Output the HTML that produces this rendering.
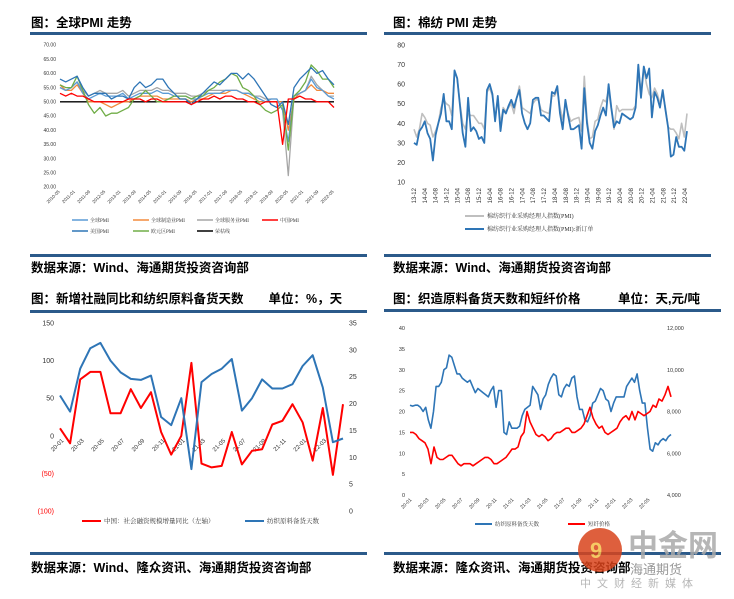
<!DOCTYPE html>
<html><head><meta charset="utf-8">
<style>
html,body{margin:0;padding:0;background:#fff;}
svg{display:block;font-family:"Liberation Sans","Noto Sans CJK SC",sans-serif;}
.tt{font-family:"Liberation Sans","Noto Sans CJK SC",sans-serif;font-weight:bold;font-size:12.5px;fill:#000;}
.sm{font-size:5px;fill:#333;}
.lg{font-family:"Liberation Serif","Noto Serif CJK SC",serif;fill:#333;}
</style></head><body>
<svg id="c" width="734" height="599" viewBox="0 0 734 599">
<!-- panel 1 static -->
<text class="tt" x="31" y="27">图：全球PMI 走势</text>
<rect x="30" y="32" width="337" height="3" fill="#2b5a8a"/>
<rect x="30" y="254" width="337" height="3" fill="#2b5a8a"/>
<text class="tt" x="31" y="272">数据来源：Wind、海通期货投资咨询部</text>
<!-- panel 2 static -->
<text class="tt" x="393" y="27">图：棉纺 PMI 走势</text>
<rect x="384" y="32" width="327" height="3" fill="#2b5a8a"/>
<rect x="384" y="254" width="327" height="3" fill="#2b5a8a"/>
<text class="tt" x="393" y="272">数据来源：Wind、海通期货投资咨询部</text>
<!-- panel 3 static -->
<text class="tt" x="31" y="303">图：新增社融同比和纺织原料备货天数　　单位：%，天</text>
<rect x="30" y="310" width="337" height="3" fill="#2b5a8a"/>
<rect x="30" y="552" width="337" height="3" fill="#2b5a8a"/>
<text class="tt" x="31" y="572">数据来源：Wind、隆众资讯、海通期货投资咨询部</text>
<!-- panel 4 static -->
<text class="tt" x="393" y="303">图：织造原料备货天数和短纤价格　　　单位：天,元/吨</text>
<rect x="384" y="309" width="337" height="3" fill="#2b5a8a"/>
<rect x="384" y="552" width="337" height="3" fill="#2b5a8a"/>
<text class="tt" x="393" y="572">数据来源：隆众资讯、海通期货投资咨询部</text>
<g id="g"></g>
<!-- watermark -->
<g opacity="0.85">
<circle cx="600" cy="550" r="22" fill="#d9441c"/>
<text x="590" y="558" font-size="22" fill="#f5c04a" font-weight="bold">9</text>
<text x="628" y="556" font-size="30" fill="#aaa" font-weight="bold" font-family="Noto Sans CJK SC,sans-serif">中金网</text>
<text x="630" y="574" font-size="13" fill="#888" font-family="Noto Sans CJK SC,sans-serif">海通期货</text>
<text x="580" y="587" font-size="11" fill="#aaa" letter-spacing="6" font-family="Noto Sans CJK SC,sans-serif">中文财经新媒体</text>
</g>
</svg>
<script>
// ---------- Panel 1 data (quarterly from 2010-05 to 2022-05) ----------
const p1Ticks = [70,65,60,55,50,45,40,35,30,25,20];
const p1XLabels = ["2010-05","2011-01","2011-09","2012-05","2013-01","2013-09","2014-05","2015-01","2015-09","2016-05","2017-01","2017-09","2018-05","2019-01","2019-09","2020-05","2021-01","2021-09","2022-05"];
const pmiGlobal = [55,54,55, 57,53,51,52, 53,52,52,52, 53,51,52,53, 53,53,54,53, 53,52,52,52, 51,51,52,53, 53,53,54,54, 54,53,53,52, 51,50,51,51, 47,36,52,53, 54,58,55,54, 52,51];
const pmiMfg = [56,54,54, 56,53,50,50, 50,49,48,49, 50,50,51,52, 52,52,52,51, 51,51,51,51, 50,51,51,52, 53,53,53,54, 54,53,52,51, 50,50,50,50, 50,40,51,53, 54,56,54,54, 53,53];
const pmiSvc = [55,54,55, 57,54,52,53, 54,53,53,53, 54,52,53,54, 54,54,55,54, 54,53,53,53, 52,52,53,54, 54,54,54,54, 54,53,53,52, 52,51,51,51, 47,24,52,53, 54,59,56,54, 52,52];
const pmiChina = [53,52,53, 52,52,51,50, 50,50,50,50, 50,51,51,51, 50,51,51,50, 50,50,50,50, 49,50,51,51, 52,51,52,52, 51,51,50,50, 49,50,50,50, 35,51,51,52, 51,51,50,50, 50,48];
const pmiUS = [58,57,58, 59,55,52,53, 53,53,51,52, 52,51,55,57, 55,56,58,58, 55,53,51,51, 49,51,53,55, 57,56,58,60, 60,58,60,58, 55,52,49,48, 50,42,55,58, 60,62,60,61, 58,56];
const pmiEU = [56,55,55, 59,54,49,46, 48,45,46,46, 47,48,51,52, 54,52,50,50, 51,52,52,52, 51,52,52,54, 55,57,58,60, 59,55,54,52, 49,47,46,47, 49,33,52,54, 57,63,61,58, 58,55];
const p1Threshold = [50];
// ---------- Panel 2 data (month index from 2013-12) ----------
const p2Ticks = [80,70,60,50,40,30,20,10];
const p2XLabels = ["13-12","14-04","14-08","14-12","15-04","15-08","15-12","16-04","16-08","16-12","17-04","17-08","17-12","18-04","18-08","18-12","19-04","19-08","19-12","20-04","20-08","20-12","21-04","21-08","21-12","22-04"];
const p2Months = [0,1,2,3,4,5,6,7,8,9,10,11,12,13,14,15,16,17,18,19,20,21,22,23,24,25,26,27,28,29,30,31,32,33,34,35,36,37,38,39,40,41,42,43,44,45,46,47,48,50,51,52,53,54,55,56,57,58,59,61,62,63,64,65,66,67,68,69,70,71,72,73,74,75,76,77,78,80,81,82,83,84,85,86,87,88,89,90,91,92,93,94,95,96,97,98,99,100,101];
const cottonNewOrders = [30,29,36,38,41,35,32,21,34,40,45,55,41,41,37,67,63,49,35,28,53,36,38,36,32,33,30,57,60,55,41,54,36,47,45,49,52,48,53,57,45,40,37,40,52,53,53,44,44,41,56,55,59,45,37,52,44,37,37,39,27,58,40,30,27,36,39,44,48,44,60,48,38,41,40,45,44,42,43,48,70,53,69,63,68,43,56,53,48,57,47,38,23,24,33,28,28,26,36];
const cottonPMI = [37,33,37,45,43,40,39,33,36,40,48,52,50,49,44,66,63,50,40,37,45,44,44,42,40,40,37,56,58,54,43,52,40,48,46,48,50,45,53,59,48,47,46,45,50,52,52,47,46,45,54,54,57,48,42,50,45,41,42,43,36,64,42,32,33,41,42,48,52,51,57,47,37,49,46,47,47,47,47,49,65,57,68,60,55,53,58,55,50,55,48,38,37,37,35,32,40,33,45];
// ---------- Panel 3 data (monthly 20-01..22-05) ----------
const p3LeftTicks = [150,100,50,0,-50,-100];
const p3RightTicks = [35,30,25,20,15,10,5,0];
const p3XLabels = ["20-01","20-03","20-05","20-07","20-09","20-11","21-01","21-03","21-05","21-07","21-09","21-11","22-01","22-03"];
const socialFinancing = [10,-10,75,85,85,30,30,62,37,58,5,-25,0,97,-37,-42,-40,5,-38,-20,-18,15,20,42,18,-33,37,-52,42];
const textileStockDays = [21.5,18.5,26.5,30.3,31.3,28,25.8,24.6,24.4,25.2,17.5,16,21,7.8,24,25.5,26.5,28.3,18.7,21,24.5,22.8,22.8,23.6,27,29,23,12.8,13.5];
// ---------- Panel 4 data (weekly-ish 20-01..22-06) ----------
const p4LeftTicks = [40,35,30,25,20,15,10,5,0];
const p4RightTicks = [12000,10000,8000,6000,4000];
const p4XLabels = ["20-01","20-03","20-05","20-07","20-09","20-11","21-01","21-03","21-05","21-07","21-09","21-11","22-01","22-03","22-05"];
const weavingStockDays = [21.5,21.3,21.5,21.5,21,20,21,18,16,20,26,26,27,30,30.5,33.5,33,31,29,29,28,27.5,27,27.5,26,24.5,25.5,25,24.5,24,23.5,25,26,21,25,25,15,14.5,17.5,16,16,16,16.5,19,20.5,21,21.5,26,25,24,20.5,23,24,26.5,28,29,28.5,24,23.5,25.5,26.5,26,28,28.5,23.5,20.5,20.5,18,17.5,19,22,22.5,24,25.5,25,23,22.5,20,22,23.5,23.5,23.5,23.5,26,27,28,27,29,25,22,22,16,11,10.5,12.5,12,13,13.5,13,14,14.5];
const staplePrice = [7000,7000,6900,6700,6600,6500,6200,5500,6300,5800,5700,5700,5800,5900,5900,5700,5500,5400,5500,5500,5500,5400,5500,5600,5700,5800,5800,5700,5500,5500,5600,5700,5800,6000,6200,6200,6300,6800,7000,8000,7500,7200,6900,6800,6900,6800,6600,6700,6900,7000,7000,7100,7200,7200,7000,7000,7100,7200,7400,7800,8200,7700,7400,7200,7300,7000,6900,7000,7100,7200,7500,7700,7800,7600,8000,7600,8000,7900,7800,7900,8000,8300,8200,8600,8500,8800,9200,8700];

const NS = "http://www.w3.org/2000/svg";
const G = document.getElementById('g');
function mk(tag, attrs, txt){const e=document.createElementNS(NS,tag);for(const k in attrs)e.setAttribute(k,attrs[k]);if(txt!==undefined)e.textContent=txt;G.appendChild(e);return e;}
function lin(d0,d1,r0,r1){return v=>r0+(v-d0)*(r1-r0)/(d1-d0);}
function poly(xs, ys, color, w, name){
  const pts = ys.map((v,i)=>xs[i].toFixed(1)+','+v.toFixed(1)).join(' ');
  const e = mk('polyline',{points:pts,fill:'none',stroke:color,'stroke-width':w,'stroke-linejoin':'round'});
  
  
  return e;
}

// ===== Panel 1 =====
{
  const y = lin(70,20,45,187), x = lin(0,48,60,334);
  p1Ticks.forEach(t=>{const e=mk('text',{x:56,y:y(t)+1.7,'text-anchor':'end','font-size':5,fill:'#333'},t.toFixed(2));
    
    });
  p1XLabels.forEach((l,i)=>{const xx=lin(0,p1XLabels.length-1,60,334)(i);
    const e=mk('text',{x:xx,y:192,'text-anchor':'end','font-size':4.5,fill:'#333',transform:`rotate(-45 ${xx} 192)`},l);
    
    });
  const xs = pmiGlobal.map((_,i)=>x(i));
  const th = mk('line',{x1:60,x2:334,y1:y(p1Threshold[0]),y2:y(p1Threshold[0]),stroke:'#000','stroke-width':1.3});
  
  
  poly(xs,pmiSvc.map(y),'#a6a6a6',1.3,'global-services-pmi-line');
  poly(xs,pmiMfg.map(y),'#f28a3c',1.3,'global-manufacturing-pmi-line');
  poly(xs,pmiGlobal.map(y),'#5b9bd5',1.3,'global-pmi-line');
  poly(xs,pmiEU.map(y),'#70ad47',1.3,'eurozone-pmi-line');
  poly(xs,pmiUS.map(y),'#2e75b6',1.3,'us-pmi-line');
  poly(xs,pmiChina.map(y),'#ff0000',1.3,'china-pmi-line');
  const leg=[["全球PMI","#5b9bd5",72,220],["全球制造业PMI","#f28a3c",133,220],["全球服务业PMI","#a6a6a6",197,220],["中国PMI","#ff0000",262,220],["美国PMI","#2e75b6",72,231],["欧元区PMI","#70ad47",133,231],["荣枯线","#000",197,231]];
  leg.forEach(l=>{const a=mk('line',{x1:l[2],x2:l[2]+16,y1:l[3],y2:l[3],stroke:l[1],'stroke-width':1.5});
    
    
    const t=mk('text',{x:l[2]+18,y:l[3]+2,'font-size':5,class:'lg'},l[0]);
    
    });
}
// ===== Panel 2 =====
{
  const y = lin(80,10,45,182), x = lin(0,101,414,687);
  p2Ticks.forEach(t=>{const e=mk('text',{x:405,y:y(t)+2.5,'text-anchor':'end','font-size':7,fill:'#333'},t);
    
    });
  p2XLabels.forEach((l,i)=>{const xx=lin(0,p2XLabels.length-1,414,685)(i)+2;
    const e=mk('text',{x:xx,y:188,'text-anchor':'end','font-size':6,fill:'#333',transform:`rotate(-90 ${xx} 188)`},l);
    
    });
  const xs=p2Months.map(x);
  poly(xs,cottonPMI.map(y),'#bfbfbf',1.6,'cotton-pmi-line');
  poly(xs,cottonNewOrders.map(y),'#2e75b6',1.8,'cotton-new-orders-line');
  const leg=[["棉纺织行业采购经理人指数(PMI)","#bfbfbf",465,216],["棉纺织行业采购经理人指数(PMI):新订单","#2e75b6",465,229]];
  leg.forEach(l=>{const a=mk('line',{x1:l[2],x2:l[2]+19,y1:l[3],y2:l[3],stroke:l[1],'stroke-width':2});
    
    
    const t=mk('text',{x:l[2]+22,y:l[3]+2.2,'font-size':6,class:'lg'},l[0]);
    
    });
}
// ===== Panel 3 =====
{
  const yl = lin(150,-100,323,511), yr = lin(35,0,323,511), x = lin(0,28,60,343);
  p3LeftTicks.forEach(t=>{const e=mk('text',{x:54,y:yl(t)+2.5,'text-anchor':'end','font-size':7,fill:t<0?'#ff0000':'#333'},t<0?`(${-t})`:t);
    
    });
  p3RightTicks.forEach(t=>{const e=mk('text',{x:349,y:yr(t)+2.5,'font-size':7,fill:'#333'},t);
    
    });
  p3XLabels.forEach((l,i)=>{const xx=x(i*2)+4;
    const e=mk('text',{x:xx,y:441,'text-anchor':'end','font-size':6,fill:'#333',transform:`rotate(-45 ${xx} 441)`},l);
    
    });
  const xs=socialFinancing.map((_,i)=>x(i));
  poly(xs,socialFinancing.map(yl),'#ff0000',2,'social-financing-line');
  poly(xs,textileStockDays.map(yr),'#2e75b6',2,'textile-stock-days-line');
  const leg=[["中国：社会融资规模增量同比（左轴）","#ff0000",82,521],["纺织原料备货天数","#2e75b6",245,521]];
  leg.forEach(l=>{const a=mk('line',{x1:l[2],x2:l[2]+19,y1:l[3],y2:l[3],stroke:l[1],'stroke-width':2});
    
    
    const t=mk('text',{x:l[2]+22,y:l[3]+2.2,'font-size':6.5,class:'lg'},l[0]);
    
    });
}
// ===== Panel 4 =====
{
  const yl = lin(40,0,328,495), yr = lin(12000,4000,328,495);
  p4LeftTicks.forEach(t=>{const e=mk('text',{x:405,y:yl(t)+2,'text-anchor':'end','font-size':5.5,fill:'#333'},t);
    
    });
  p4RightTicks.forEach(t=>{const e=mk('text',{x:667,y:yr(t)+2,'font-size':5.5,fill:'#333'},t.toLocaleString('en-US'));
    
    });
  p4XLabels.forEach((l,i)=>{const xx=lin(0,p4XLabels.length-1,412,650)(i);
    const e=mk('text',{x:xx,y:500,'text-anchor':'end','font-size':5,fill:'#333',transform:`rotate(-45 ${xx} 500)`},l);
    
    });
  const xb=lin(0,weavingStockDays.length-1,410,671), xr=lin(0,staplePrice.length-1,410,671);
  poly(weavingStockDays.map((_,i)=>xb(i)),weavingStockDays.map(yl),'#2e75b6',1.6,'weaving-stock-days-line');
  poly(staplePrice.map((_,i)=>xr(i)),staplePrice.map(yr),'#ff0000',1.6,'staple-fiber-price-line');
  const leg=[["纺织原料备货天数","#2e75b6",475,524],["短纤价格","#ff0000",568,524]];
  leg.forEach(l=>{const a=mk('line',{x1:l[2],x2:l[2]+17,y1:l[3],y2:l[3],stroke:l[1],'stroke-width':2});
    
    
    const t=mk('text',{x:l[2]+20,y:l[3]+2,'font-size':5.5,class:'lg'},l[0]);
    
    });
}
</script>
</body></html>
